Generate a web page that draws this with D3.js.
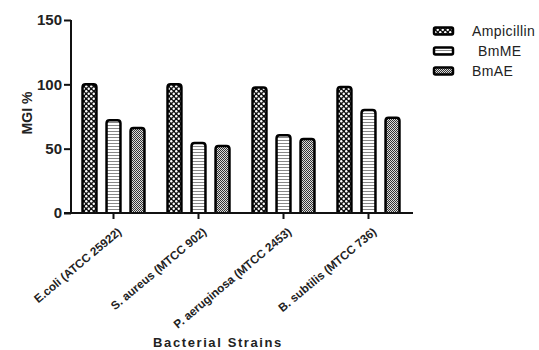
<!DOCTYPE html>
<html lang="en">
<head>
<meta charset="UTF-8">
<title>MGI %</title>
<script src="https://d3js.org/d3.v7.min.js"></script>
<style>
  body { margin: 0; background: #fff; }
  text { font-family: "Liberation Sans", Arial, sans-serif; }
</style>
</head>
<body>
<script>
    var strains = ['E.coli (ATCC 25922)', 'S. aureus (MTCC 902)', 'P. aeruginosa (MTCC 2453)', 'B. subtilis (MTCC 736)'];
    var series = ['Ampicillin', 'BmME', 'BmAE'];
    var ampicillin = [100, 100, 97.5, 98];
    var bmme = [72, 54.5, 60.5, 80];
    var bmae = [66, 52, 57.5, 74];
    var yTicks = [0, 50, 100, 150];

    var values = [ampicillin, bmme, bmae];

    var svg = d3.select('body').append('svg')
        .attr('width', 539)
        .attr('height', 350);

    // patterns for the bars
    var defs = svg.append('defs');

    var p1 = defs.append('pattern').attr('id', 'pat0')
        .attr('patternUnits', 'userSpaceOnUse').attr('width', 5).attr('height', 5);
    p1.append('rect').attr('width', 5).attr('height', 5).attr('fill', '#111');
    p1.append('circle').attr('cx', 1.25).attr('cy', 1.25).attr('r', 1.2).attr('fill', '#fff');
    p1.append('circle').attr('cx', 3.75).attr('cy', 3.75).attr('r', 1.2).attr('fill', '#fff');

    var p2 = defs.append('pattern').attr('id', 'pat1')
        .attr('patternUnits', 'userSpaceOnUse').attr('width', 4).attr('height', 3);
    p2.append('rect').attr('width', 4).attr('height', 3).attr('fill', '#fff');
    p2.append('rect').attr('y', 2).attr('width', 4).attr('height', 1).attr('fill', '#888');

    var p3 = defs.append('pattern').attr('id', 'pat2')
        .attr('patternUnits', 'userSpaceOnUse').attr('width', 2).attr('height', 2);
    p3.append('rect').attr('width', 2).attr('height', 2).attr('fill', '#ddd');
    p3.append('rect').attr('width', 1).attr('height', 1).attr('fill', '#333');
    p3.append('rect').attr('x', 1).attr('y', 1).attr('width', 1).attr('height', 1).attr('fill', '#333');

    var x = d3.scaleBand().domain(strains).range([71, 411]);
    var xs = d3.scaleBand().domain(series).range([0, x.bandwidth()]).paddingInner(0.42).paddingOuter(0.48);
    var y = d3.scaleLinear().domain([0, 150]).range([213, 20]);

    // bars
    series.forEach(function(s, i) {
        svg.append('g').selectAll('path')
            .data(strains)
            .enter()
            .append('path')
            .attr('d', function(d, j) {
                var x0 = x(d) + xs(s), w = xs.bandwidth(), y0 = y(values[i][j]), r = 3;
                return 'M' + x0 + ',' + y(0) + 'V' + (y0 + r) +
                    'Q' + x0 + ',' + y0 + ' ' + (x0 + r) + ',' + y0 +
                    'H' + (x0 + w - r) +
                    'Q' + (x0 + w) + ',' + y0 + ' ' + (x0 + w) + ',' + (y0 + r) +
                    'V' + y(0);
            })
            .attr('fill', 'url(#pat' + i + ')')
            .attr('stroke', '#000')
            .attr('stroke-width', 2.5);
    });

    // axes
    var yAxis = svg.append('g')
        .attr('transform', 'translate(71,0)')
        .call(d3.axisLeft(y).tickValues(yTicks).tickSize(7).tickPadding(2));
    yAxis.selectAll('path, line').attr('stroke', '#111').attr('stroke-width', 2);
    yAxis.select('.domain').attr('d', 'M0,' + y(150) + 'V' + y(0));
    yAxis.selectAll('text').attr('font-size', 15).attr('font-weight', 'bold').attr('fill', '#222');

    var xAxis = svg.append('g')
        .attr('transform', 'translate(0,213)')
        .call(d3.axisBottom(x).tickSize(6).tickPadding(4));
    xAxis.selectAll('path, line').attr('stroke', '#111').attr('stroke-width', 2);
    xAxis.select('.domain').attr('d', 'M64,0H413');
    xAxis.selectAll('text')
        .attr('font-size', 11.7)
        .attr('font-weight', 'bold')
        .attr('fill', '#222')
        .attr('text-anchor', 'end')
        .attr('x', 0)
        .attr('y', 0)
        .attr('dy', '0.35em')
        .attr('transform', 'translate(6,17) rotate(-40)');

    // axis titles
    svg.append('text')
        .attr('transform', 'translate(32,113) rotate(-90)')
        .attr('text-anchor', 'middle')
        .attr('font-size', 14)
        .attr('font-weight', 'bold')
        .attr('fill', '#222')
        .text('MGI %');

    svg.append('text')
        .attr('x', 218)
        .attr('y', 347)
        .attr('text-anchor', 'middle')
        .attr('font-size', 13)
        .attr('font-weight', 'bold')
        .attr('letter-spacing', 1.6)
        .attr('fill', '#222')
        .text('Bacterial Strains');

    // legend
    var legend = svg.append('g').selectAll('g')
        .data(series)
        .enter()
        .append('g')
        .attr('transform', function(d, i) { return 'translate(434,' + (31 + i * 20) + ')'; });
    legend.append('rect')
        .attr('x', 0).attr('y', -3.5)
        .attr('width', 19).attr('height', 7)
        .attr('rx', 1.5)
        .attr('fill', function(d, i) { return 'url(#pat' + i + ')'; })
        .attr('stroke', '#000')
        .attr('stroke-width', 2.5);
    legend.append('text')
        .attr('x', function(d, i) { return i === 1 ? 44 : 38; })
        .attr('dy', '0.35em')
        .attr('font-size', 14)
        .attr('letter-spacing', 0.4)
        .attr('fill', '#222')
        .text(function(d) { return d; });
</script>
</body>
</html>
